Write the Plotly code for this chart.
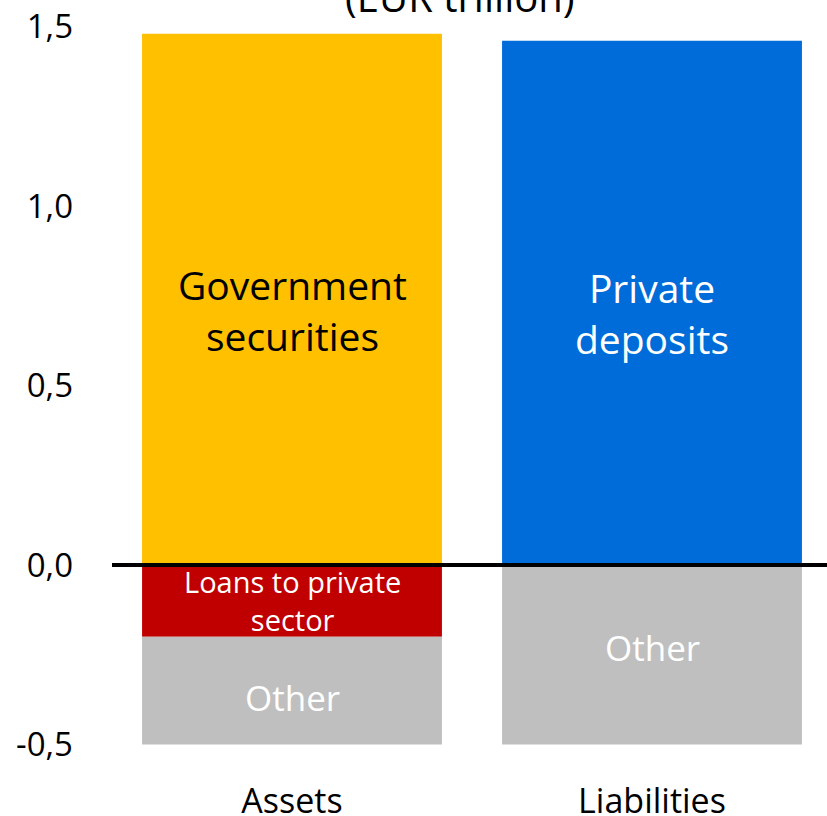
import plotly.graph_objects as go

categories = ["Assets", "Liabilities"]
series_names = ["Government securities", "Loans to private sector", "Other assets",
                "Private deposits", "Other liabilities"]
gov_securities = [1.48, 0]
loans_private = [-0.20, 0]
other_assets = [-0.30, 0]
private_deposits = [0, 1.46]
other_liab = [0, -0.50]

tick_vals = [-0.5, 0, 0.5, 1.0, 1.5]
tick_text = ["-0,5", "0,0", "0,5", "1,0", "1,5"]

FONT = "Open Sans"
W, H = 827, 816
ML, MR, MT, MB = 112, 0, 0, 60

fig = go.Figure()
bw = 0.833

def add(vals, color, name):
    fig.add_trace(go.Bar(x=categories, y=vals, marker=dict(color=color, line=dict(width=0)),
                         width=bw, name=name, showlegend=False, hoverinfo="skip"))

add(gov_securities, "#FFC000", series_names[0])
add(private_deposits, "#006CD9", series_names[3])
add(loans_private, "#C00000", series_names[1])
add(other_assets, "#BFBFBF", series_names[2])
add(other_liab, "#BFBFBF", series_names[4])

# labels in bar segments (positions derived from data)
def lab(xcat, y, text, color, size):
    fig.add_annotation(x=xcat, y=y, text=text, showarrow=False,
                       font=dict(family=FONT, size=size, color=color))

lab("Assets", gov_securities[0] * 0.48, "Government<br>securities", "#000000", 39)
lab("Liabilities", private_deposits[1] * 0.48, "Private<br>deposits", "#FFFFFF", 39)
lab("Assets", loans_private[0] / 2, "Loans to private<br>sector", "#FFFFFF", 29)
lab("Assets", loans_private[0] + other_assets[0] / 2 - 0.02, "Other", "#FFFFFF", 35)
lab("Liabilities", other_liab[1] / 2 + 0.02, "Other", "#FFFFFF", 35)

plot_h = H - MT - MB
zero_px = 565
upp = 0.5 / 179.5
ytop = zero_px * upp
ybot = -(plot_h - zero_px) * upp

# title (partly cut off at top, as in the reference)
fig.add_annotation(xref="paper", yref="paper", x=(460 - ML) / (W - ML - MR), y=1 - 26 / plot_h,
                   xanchor="center", yanchor="bottom", text="(EUR trillion)", showarrow=False,
                   font=dict(family=FONT, size=40, color="#000000"))

# zero line
fig.add_shape(type="line", xref="paper", yref="y", x0=0, x1=1, y0=0, y1=0,
              line=dict(color="#000000", width=4), layer="above")

fig.update_layout(
    width=W, height=H,
    margin=dict(l=ML, r=MR, t=MT, b=MB),
    barmode="relative",
    plot_bgcolor="white", paper_bgcolor="white",
    font=dict(family=FONT, size=33, color="#000000"),
    xaxis=dict(range=[-0.5, -0.5 + (W - ML - MR) / 360], showgrid=False, zeroline=False,
               showline=False, ticks="", ticklabelstandoff=22, automargin=False,
               ticklabeloverflow="allow", tickfont=dict(family=FONT, size=34)),
    yaxis=dict(range=[ybot, ytop], tickvals=tick_vals, ticktext=tick_text,
               showgrid=False, zeroline=False, showline=False, ticks="", automargin=False,
               ticklabeloverflow="allow", ticklabelstandoff=38,
               tickfont=dict(family=FONT, size=33)),
)

fig.write_html("out.html", config={"displayModeBar": False},
               post_script="document.body.style.margin='0';document.body.style.overflow='hidden';")
